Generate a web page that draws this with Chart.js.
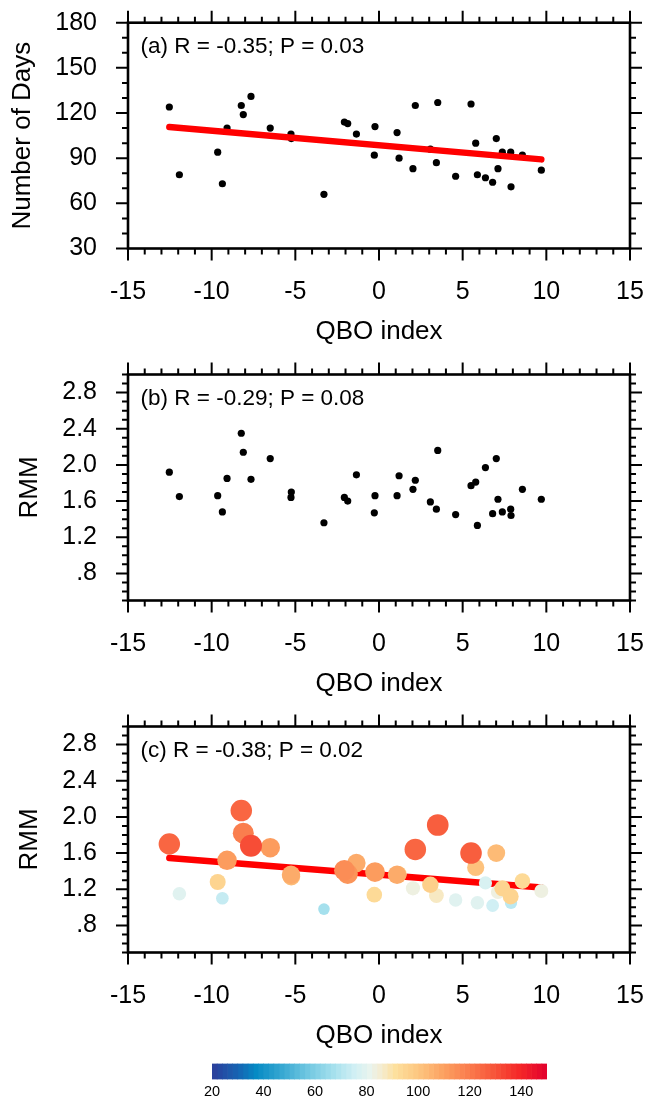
<!DOCTYPE html>
<html>
<head>
<meta charset="utf-8">
<script src="https://cdn.jsdelivr.net/npm/chart.js@4.4.1/dist/chart.umd.min.js"></script>
<style>
  html, body { margin: 0; padding: 0; background: #fff; }
  #wrap { position: relative; width: 647px; height: 1099px; overflow: hidden; background: #fff; }
  #wrap canvas { position: absolute; left: 0; }
</style>
</head>
<body>
<div id="wrap">
  <canvas id="panelA" width="647" height="352" style="top:0px"></canvas>
  <canvas id="panelB" width="647" height="352" style="top:352px"></canvas>
  <canvas id="panelC" width="647" height="395" style="top:704px"></canvas>
  <canvas id="colorbar" width="647" height="49" style="top:1050px"></canvas>
</div>
<script>
// ---- data: one entry per winter ----
const qbo = [-12.53, -11.93, -9.64, -9.36, -9.08, -8.23, -8.11, -7.65, -6.50, -5.26, -5.24,
             -3.29, -2.07, -1.87, -1.35, -0.28, -0.24, 1.08, 1.20, 2.03, 2.17, 3.07, 3.43,
             3.51, 4.58, 5.50, 5.78, 5.88, 6.36, 6.79, 7.01, 7.11, 7.37, 7.87, 7.89, 8.57, 9.70];
const days = [124, 79, 94, 73, 110, 125, 119, 131, 110, 106, 103,
              66, 114, 113, 106, 92, 111, 107, 90, 83, 125, 96, 87,
              127, 78, 126, 100, 79, 77, 74, 103, 83, 94, 94, 71, 92, 82];
const rmmAll = [1.92, 1.65, 1.66, 1.48, 1.85, 2.35, 2.14, 1.84, 2.07, 1.64, 1.70,
                1.36, 1.64, 1.60, 1.89, 1.47, 1.66, 1.66, 1.88, 1.73, 1.83, 1.59, 1.51,
                2.16, 1.45, 1.77, 1.81, 1.33, 1.97, 1.46, 2.07, 1.62, 1.48, 1.51, 1.44, 1.73, 1.62];
const rmmActive = [1.70, 1.15, 1.28, 1.10, 1.52, 2.07, 1.82, 1.68, 1.66, 1.36, 1.34,
                   0.98, 1.41, 1.37, 1.49, 1.14, 1.39, 1.36, 1.37, 1.21, 1.64, 1.25, 1.13,
                   1.91, 1.08, 1.60, 1.44, 1.05, 1.27, 1.02, 1.60, 1.17, 1.21, 1.12, 1.05, 1.29, 1.18];

// regression line values at the smallest and largest QBO index
const fitDays = [110.7, 89.2];
const fitRmm = [1.545, 1.22];

// axis ticks
const qboTicks = [-15, -10, -5, 0, 5, 10, 15];
const daysTicks = [30, 60, 90, 120, 150, 180];
const rmmTicks = [0.8, 1.2, 1.6, 2.0, 2.4, 2.8];
const cbTicks = [20, 40, 60, 80, 100, 120, 140];

const titles = ['(a) R = -0.35; P = 0.03', '(b) R = -0.29; P = 0.08', '(c) R = -0.38; P = 0.02'];

// ---- styling helpers ----
const FONT = "'Liberation Sans', Arial, Helvetica, sans-serif";
Chart.defaults.font.family = FONT;
Chart.defaults.color = '#000';

// blue-white-orange-red colour table
const CMAP = [
  [20, [44, 62, 155]], [30, [22, 100, 178]], [37, [5, 138, 196]], [47, [55, 168, 210]],
  [57, [112, 199, 225]], [67, [165, 224, 237]], [75, [208, 239, 244]], [81, [232, 244, 238]],
  [86, [246, 235, 205]], [91, [253, 224, 157]], [100, [253, 198, 128]], [110, [252, 160, 96]],
  [120, [250, 122, 76]], [130, [247, 82, 56]], [139, [245, 40, 40]], [150, [226, 0, 46]]
];
const CB_MIN = 20, CB_MAX = 150, CB_STEP = 2;
function cmap(v) {
  if (v <= CMAP[0][0]) return CMAP[0][1];
  for (let i = 1; i < CMAP.length; i++) {
    if (v <= CMAP[i][0]) {
      const [v0, c0] = CMAP[i - 1], [v1, c1] = CMAP[i];
      const t = (v - v0) / (v1 - v0);
      return c0.map((c, k) => Math.round(c + (c1[k] - c) * t));
    }
  }
  return CMAP[CMAP.length - 1][1];
}
function rgb(c) { return 'rgb(' + c.join(',') + ')'; }
function levelColor(d) {
  const lev = CB_MIN + CB_STEP * Math.floor((d - CB_MIN) / CB_STEP);
  return rgb(cmap(lev + CB_STEP / 2));
}
// marker radius grows with the number of days
const SIZE = [[65, 5.7], [78, 6.7], [92, 7.8], [106, 9.2], [114, 10.3], [131, 11]];
function markerRadius(d) {
  if (d <= SIZE[0][0]) return SIZE[0][1];
  for (let i = 1; i < SIZE.length; i++) {
    if (d <= SIZE[i][0]) {
      const t = (d - SIZE[i - 1][0]) / (SIZE[i][0] - SIZE[i - 1][0]);
      return SIZE[i - 1][1] + (SIZE[i][1] - SIZE[i - 1][1]) * t;
    }
  }
  return SIZE[SIZE.length - 1][1];
}

// frame, outward major/minor tick marks on all four sides, and the panel label
const framePlugin = {
  id: 'frame',
  afterDraw(chart, args, opts) {
    if (!opts || !opts.on) return;
    const { ctx, chartArea: a } = chart;
    const x = chart.scales.x, y = chart.scales.y;
    const near = (v, list) => list.some(m => Math.abs(m - v) < 1e-6);
    ctx.save();
    ctx.strokeStyle = '#000';
    ctx.lineWidth = 2;
    ctx.lineCap = 'butt';
    ctx.beginPath();
    for (let k = 0; ; k++) {
      const v = x.min + k * opts.xMinor;
      if (v > x.max + 1e-6) break;
      const px = x.getPixelForValue(v);
      const L = near(v, opts.xMajor) ? 12 : 6;
      ctx.moveTo(px, a.bottom); ctx.lineTo(px, a.bottom + L);
      ctx.moveTo(px, a.top); ctx.lineTo(px, a.top - L);
    }
    for (let k = 0; ; k++) {
      const v = y.min + k * opts.yMinor;
      if (v > y.max + 1e-6) break;
      const py = y.getPixelForValue(v);
      const L = near(v, opts.yMajor) ? 12 : 6;
      ctx.moveTo(a.left, py); ctx.lineTo(a.left - L, py);
      ctx.moveTo(a.right, py); ctx.lineTo(a.right + L, py);
    }
    ctx.stroke();
    ctx.lineWidth = 2.6;
    ctx.strokeRect(a.left, a.top, a.right - a.left, a.bottom - a.top);
    ctx.fillStyle = '#000';
    ctx.font = '22.5px ' + FONT;
    ctx.textBaseline = 'middle';
    ctx.textAlign = 'left';
    ctx.fillText(opts.label, a.left + 12.5, a.top + 24);
    ctx.restore();
  }
};
Chart.register(framePlugin);

function panelOptions(p) {
  return {
    responsive: false,
    animation: false,
    devicePixelRatio: 1,
    events: [],
    layout: { padding: { top: p.padTop, left: 0, right: 17, bottom: p.padBottom } },
    plugins: {
      legend: { display: false },
      tooltip: { enabled: false },
      frame: { on: true, label: p.label, xMinor: 1, xMajor: qboTicks, yMinor: p.yMinor, yMajor: p.yTicks }
    },
    scales: {
      x: {
        type: 'linear', position: 'bottom', min: -15, max: 15,
        afterBuildTicks: s => { s.ticks = qboTicks.map(v => ({ value: v })); },
        afterFit: s => { s.height = 103.5; s.paddingLeft = 0; s.paddingRight = 0; },
        grid: { display: false, drawTicks: false },
        border: { display: false },
        ticks: { padding: 28.5, font: { size: 25 }, color: '#000', maxRotation: 0, autoSkip: false,
                 callback: v => String(v) },
        title: { display: true, text: 'QBO index', font: { size: 26 }, color: '#000',
                 padding: { top: 0, bottom: 4.4 } }
      },
      y: {
        type: 'linear', position: 'left', min: p.yMin, max: p.yMax,
        afterBuildTicks: s => { s.ticks = p.yTicks.map(v => ({ value: v })); },
        afterFit: s => { s.width = 128; s.paddingTop = 0; s.paddingBottom = 0; },
        grid: { display: false, drawTicks: false },
        border: { display: false },
        ticks: { padding: 31, font: { size: 25 }, color: '#000', autoSkip: false, callback: p.fmt },
        title: { display: true, text: p.yTitle, font: { size: 26 }, color: '#000',
                 padding: { top: p.yTitlePad, bottom: 0 } }
      }
    }
  };
}

const rmmFmt = v => { const s = Number(v).toFixed(1); return s.startsWith('0') ? s.slice(1) : s; };
const qMin = Math.min(...qbo), qMax = Math.max(...qbo);

// (a) number of days vs QBO index
new Chart(document.getElementById('panelA'), {
  type: 'scatter',
  data: {
    datasets: [
      { data: [{ x: qMin, y: fitDays[0] }, { x: qMax, y: fitDays[1] }], showLine: true,
        borderColor: '#ff0000', borderWidth: 6.5, borderCapStyle: 'round', pointRadius: 0, order: 0 },
      { data: qbo.map((q, i) => ({ x: q, y: days[i] })), pointRadius: 3.6,
        pointBackgroundColor: '#000', pointBorderWidth: 0, order: 1 }
    ]
  },
  options: panelOptions({ padTop: 22.7, padBottom: 0, label: titles[0], yMin: 30, yMax: 180,
    yTicks: daysTicks, yMinor: 10, fmt: v => String(v), yTitle: 'Number of Days', yTitlePad: 7.1 })
});

// (b) RMM amplitude vs QBO index
new Chart(document.getElementById('panelB'), {
  type: 'scatter',
  data: {
    datasets: [
      { data: qbo.map((q, i) => ({ x: q, y: rmmAll[i] })), pointRadius: 3.6,
        pointBackgroundColor: '#000', pointBorderWidth: 0 }
    ]
  },
  options: panelOptions({ padTop: 22.5, padBottom: 0, label: titles[1], yMin: 0.5, yMax: 3.0,
    yTicks: rmmTicks, yMinor: 0.1, fmt: rmmFmt, yTitle: 'RMM', yTitlePad: 14.4 })
});

// (c) RMM amplitude vs QBO index, coloured and sized by the number of days
const byDays = qbo.map((q, i) => i).sort((i, j) => days[i] - days[j]);
new Chart(document.getElementById('panelC'), {
  type: 'scatter',
  data: {
    datasets: [
      { data: byDays.map(i => ({ x: qbo[i], y: rmmActive[i], d: days[i] })),
        pointRadius: c => markerRadius(c.raw.d),
        pointBackgroundColor: c => levelColor(c.raw.d),
        pointBorderWidth: 0, order: 0 },
      { data: [{ x: qMin, y: fitRmm[0] }, { x: qMax, y: fitRmm[1] }], showLine: true,
        borderColor: '#ff0000', borderWidth: 6.5, borderCapStyle: 'round', pointRadius: 0, order: 1 }
    ]
  },
  options: panelOptions({ padTop: 22.5, padBottom: 43, label: titles[2], yMin: 0.5, yMax: 3.0,
    yTicks: rmmTicks, yMinor: 0.1, fmt: rmmFmt, yTitle: 'RMM', yTitlePad: 14.4 })
});

// colour bar for the number of days
const cbBins = [];
for (let v = CB_MIN; v < CB_MAX; v += CB_STEP) cbBins.push(v);
new Chart(document.getElementById('colorbar'), {
  type: 'bar',
  data: {
    labels: ['days'],
    datasets: cbBins.map(v => ({
      data: [[v, v + CB_STEP]], backgroundColor: rgb(cmap(v + CB_STEP / 2)),
      borderWidth: 0, barPercentage: 1, categoryPercentage: 1, grouped: false
    }))
  },
  options: {
    indexAxis: 'y', responsive: false, animation: false, devicePixelRatio: 1, events: [],
    layout: { padding: { left: 212, right: 100, top: 13.5, bottom: 0 } },
    plugins: { legend: { display: false }, tooltip: { enabled: false } },
    scales: {
      x: {
        type: 'linear', min: CB_MIN, max: CB_MAX,
        afterBuildTicks: s => { s.ticks = cbTicks.map(v => ({ value: v })); },
        afterFit: s => { s.height = 19.5; },
        grid: { display: false, drawTicks: false }, border: { display: false },
        ticks: { padding: 3.5, font: { size: 14.5 }, color: '#000', maxRotation: 0, autoSkip: false,
                 callback: v => String(v) }
      },
      y: { display: false }
    }
  }
});
</script>
</body>
</html>
